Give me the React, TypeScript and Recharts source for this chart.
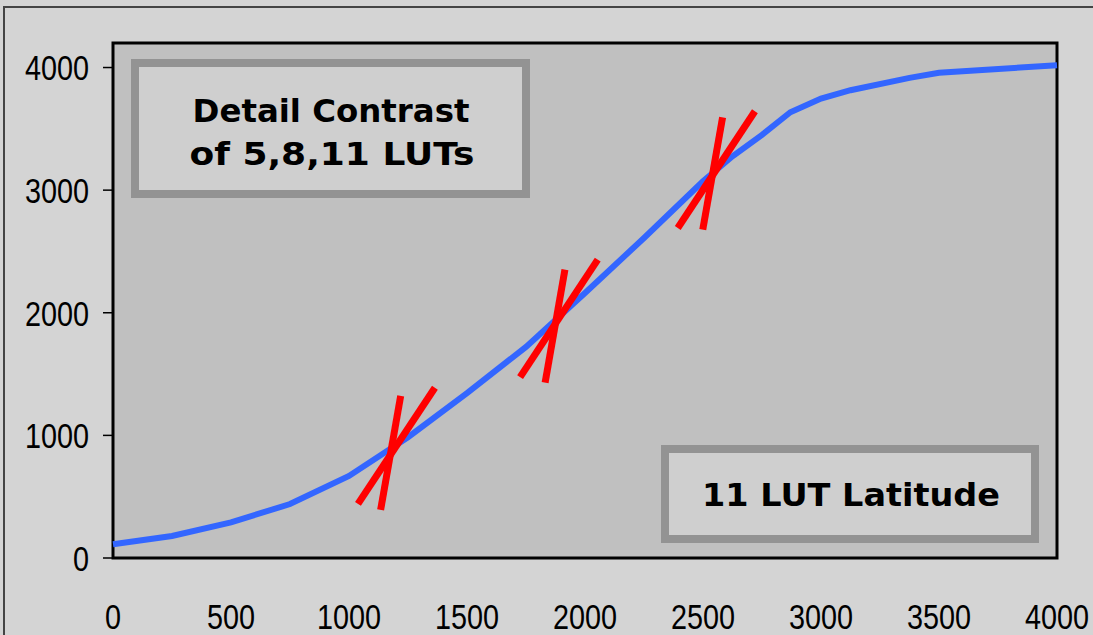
import { LineChart, Line, XAxis, YAxis, ReferenceArea, ReferenceLine } from 'recharts';

// input code value vs output value of the 11 LUT
const inputValues = [0, 250, 500, 750, 1000, 1250, 1500, 1750, 2000, 2250, 2500, 2625, 2750, 2870, 3000, 3125, 3375, 3500, 4000];
const outputValues = [112, 180, 291, 440, 669, 985, 1344, 1722, 2161, 2610, 3072, 3276, 3450, 3635, 3747, 3815, 3916, 3957, 4019];

const xTicks = [0, 500, 1000, 1500, 2000, 2500, 3000, 3500, 4000];
const yTicks = [0, 1000, 2000, 3000, 4000];

// red slope markers: [x1, y1, x2, y2] in data units
const slopeMarks = [
  [1038, 441, 1364, 1388],
  [1134, 392, 1219, 1322],
  [1725, 1475, 2054, 2433],
  [1831, 1431, 1915, 2351],
  [2393, 2691, 2720, 3643],
  [2499, 2678, 2583, 3594],
];

const data = inputValues.map((x, i) => ({ x, y: outputValues[i] }));

const boxFont = { fontFamily: '"DejaVu Sans", sans-serif', fontWeight: 'bold' as const, fontSize: 32, fill: '#000' };

// narrow-looking tick labels (no condensed font installed, so squeeze it)
const NarrowTick = (props: any) => {
  const { x, y, payload, anchor, dy } = props;
  return (
    <text
      transform={`translate(${x},${y}) scale(0.8,1)`}
      textAnchor={anchor}
      dy={dy}
      fontSize={36}
      fill="#000"
      fontFamily='"Liberation Sans", Arial, sans-serif'
    >
      {payload.value}
    </text>
  );
};

export default function App() {
  return (
    <div style={{ position: 'absolute', left: 0, top: 0, width: 1093, height: 635, background: '#d4d4d4', overflow: 'hidden' }}>
      <div style={{ position: 'absolute', left: 3, top: 6, width: 1200, height: 700, border: '2px solid #444' }} />
      <LineChart
        width={1093}
        height={635}
        data={data}
        margin={{ top: 43, right: 36, left: 0, bottom: 0 }}
        style={{ position: 'absolute', left: 0, top: 0 }}
      >
        <XAxis
          dataKey="x"
          type="number"
          domain={[0, 4000]}
          ticks={xTicks}
          axisLine={false}
          tickLine={false}
          tickSize={0}
          tickMargin={45}
          height={77}
          tick={<NarrowTick anchor="middle" dy="0.71em" />}
          interval={0}
        />
        <YAxis
          type="number"
          domain={[0, 4200]}
          ticks={yTicks}
          axisLine={false}
          tickLine={{ stroke: '#000', strokeWidth: 1.5 }}
          tickSize={10}
          tickMargin={14}
          width={113}
          tick={<NarrowTick anchor="end" dy="0.36em" />}
          interval={0}
        />
        <ReferenceArea x1={0} x2={4000} y1={0} y2={4200} fill="#c0c0c0" fillOpacity={1} stroke="#000" strokeWidth={3} />
        <Line type="linear" dataKey="y" stroke="#3366ff" strokeWidth={6} dot={false} isAnimationActive={false} />
        {slopeMarks.map((m, i) => (
          <ReferenceLine
            key={`mark-${i}`}
            segment={[{ x: m[0], y: m[1] }, { x: m[2], y: m[3] }]}
            stroke="#ff0000"
            strokeWidth={7}
            ifOverflow="visible"
          />
        ))}
      </LineChart>
      <svg width={1093} height={635} style={{ position: 'absolute', left: 0, top: 0, pointerEvents: 'none' }}>
        <rect x={135} y={63} width={391} height={131} fill="#cfcfcf" stroke="#939393" strokeWidth={8} />
        <text x={331} y={122} textAnchor="middle" textLength={277} lengthAdjust="spacingAndGlyphs" {...boxFont}>Detail Contrast</text>
        <text x={332} y={165} textAnchor="middle" textLength={285} lengthAdjust="spacingAndGlyphs" {...boxFont}>of 5,8,11 LUTs</text>
        <rect x={665} y={449} width={370} height={90} fill="#cfcfcf" stroke="#939393" strokeWidth={8} />
        <text x={851} y={506} textAnchor="middle" textLength={298} lengthAdjust="spacingAndGlyphs" {...boxFont}>11 LUT Latitude</text>
      </svg>
    </div>
  );
}
